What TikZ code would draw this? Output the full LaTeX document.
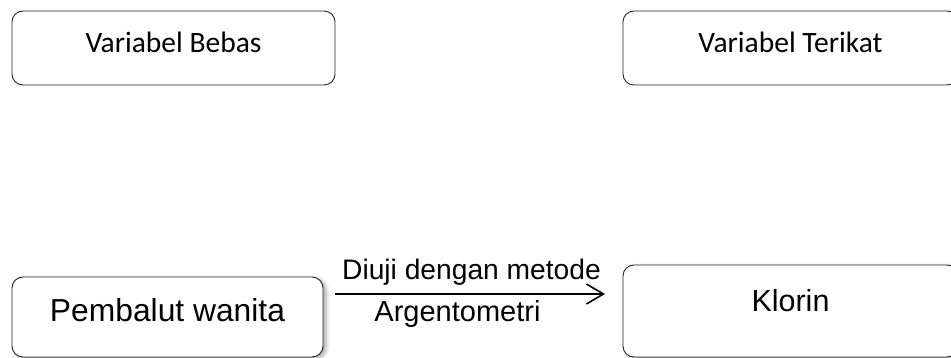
\documentclass[tikz,border=0pt]{standalone}
\usepackage{fontspec}
\setmainfont{Liberation Sans}
\newfontfamily\topfont{Carlito}
\usetikzlibrary{arrows.meta,shadows.blur}
\begin{document}
\begin{tikzpicture}[x=1pt,y=1pt,
  box/.style={draw=black!85,line width=0.9pt,rounded corners=11pt,inner sep=0pt,align=center},
  shadowbox/.style={box,fill=white,blur shadow={shadow xshift=3pt,shadow yshift=-2pt,shadow blur radius=4pt,shadow opacity=35}},
  lbl/.style={inner sep=0pt,anchor=base}]
\useasboundingbox (0,0) rectangle (951,358);
% top boxes (y_px 11..85)
\node[box,minimum width=323pt,text height=42pt,text depth=32pt,font=\topfont\fontsize{29.5}{32}\selectfont]
  (bebas) at (173.5,310) {Variabel Bebas};
\node[box,minimum width=335pt,text height=42pt,text depth=32pt,font=\topfont\fontsize{29.5}{32}\selectfont]
  (terikat) at (790.5,310) {Variabel Terikat};
% bottom boxes
\node[shadowbox,minimum width=311pt,text height=45pt,text depth=35pt,font=\fontsize{31.8}{34}\selectfont]
  (pembalut) at (167.5,41) {Pembalut wanita};
\node[shadowbox,minimum width=335pt,text height=47pt,text depth=45pt,font=\fontsize{30.5}{33}\selectfont]
  (klorin) at (790.5,47) {Klorin};
% arrow
\coordinate (a1) at (335,64);
\coordinate (a2) at (605,64);
\draw[line width=1.6pt,-{Straight Barb[length=17pt,width=20pt,line width=1.6pt]}] (a1) -- (a2);
\node[lbl,font=\fontsize{28.2}{30}\selectfont] (diuji) at (471.5,78) {Diuji dengan metode};
\node[lbl,font=\fontsize{29}{31}\selectfont] (argento) at (457.5,36) {Argentometri};
\end{tikzpicture}
\end{document}
